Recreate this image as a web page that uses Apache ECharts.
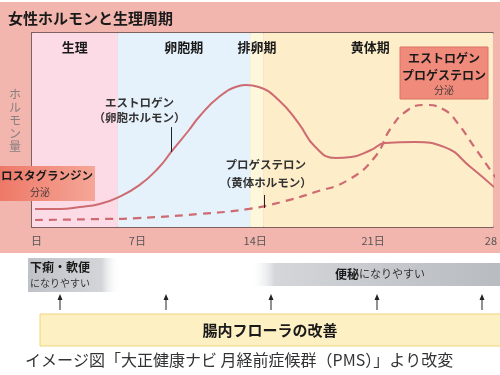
<!DOCTYPE html>
<html><head><meta charset="utf-8">
<script src="https://cdn.jsdelivr.net/npm/echarts@6/dist/echarts.min.js"></script>
<style>html,body{margin:0;padding:0;background:#fff}#c{width:500px;height:375px}</style>
</head><body><div id="c"></div>
<script>
const tickDays = [1, 7, 14, 21, 28];
const tickLabels = ['日', '7日', '14日', '21日', '28'];
const phaseNames = ['生理', '卵胞期', '排卵期', '黄体期'];
const phaseStart = [0.74, 5.82, 13.7, 14.5];
const phaseEnd = [5.82, 13.7, 14.5, 28.12];
const estrogenDays = [0.92, 2.39, 3.58, 4.76, 5.76, 7.12, 8.30, 9.01, 10.07, 10.66, 11.84, 13.03, 13.44, 14.21, 15.39, 16.57, 17.57, 18.76, 19.70, 20.88, 21.71, 23.48, 25.25, 26.79, 28.38];
const estrogenValues = [9.3, 9.3, 10.3, 11.9, 14.9, 21.6, 30.9, 38.7, 50.0, 56.7, 67.0, 72.7, 73.2, 72.2, 65.5, 53.6, 41.2, 35.6, 36.1, 39.7, 43.3, 43.8, 41.2, 30.9, 19.1];
const progDays = [0.92, 4.76, 7.0, 10.66, 13.62, 15.57, 17.57, 19.52, 21.11, 22.06, 23.07, 24.07, 25.25, 26.02, 27.02, 27.97, 28.38];
const progValues = [3.6, 4.1, 4.6, 6.7, 9.3, 12.9, 18.0, 24.2, 36.1, 51.0, 60.3, 62.9, 60.3, 53.6, 41.2, 29.4, 24.2];
const arrowXs = [60, 166, 271, 377, 482];

const FONT = '"Noto Sans CJK JP", "Noto Sans", sans-serif';
const phaseColors = ['#fcdbe6', '#e6f2fb', '#fdf8dc', '#fdedc9'];
const lineColor = '#cd6b70';

const chart = echarts.init(document.getElementById('c'), null, {renderer: 'canvas'});

const estData = estrogenDays.map((d, i) => [d, estrogenValues[i]]);
const progData = progDays.map((d, i) => [d, progValues[i]]);

const phaseAreas = phaseNames.map((n, i) => [
  {name: n, xAxis: phaseStart[i], itemStyle: {color: phaseColors[i]}, label: i === 3 ? {offset: [-8, 0]} : {}},
  {xAxis: phaseEnd[i]}
]);

const graphics = [
  {type: 'rect', z: -10, shape: {x: 0, y: 2, width: 500, height: 251}, style: {fill: '#f3b6ae'}},
  {type: 'text', z: 10, x: 8, y: 18, style: {text: '女性ホルモンと生理周期', font: 'bold 15px ' + FONT, fill: '#1a1a1a', verticalAlign: 'middle'}},
  {type: 'text', z: 10, x: 15, y: 88, style: {text: 'ホ\nル\nモ\nン\n量', font: '12px ' + FONT, fill: '#8a7f80', align: 'center', lineHeight: 13}},
  // estrogen/progesterone box
  {type: 'rect', z: 10, shape: {x: 400, y: 47, width: 88, height: 52}, style: {fill: '#f08b7b', stroke: '#d87362', lineWidth: 1}},
  {type: 'text', z: 11, x: 444, y: 58, style: {text: 'エストロゲン', font: 'bold 12px ' + FONT, fill: '#1a1a1a', align: 'center', verticalAlign: 'middle'}},
  {type: 'text', z: 11, x: 444, y: 75, style: {text: 'プロゲステロン', font: 'bold 12px ' + FONT, fill: '#1a1a1a', align: 'center', verticalAlign: 'middle'}},
  {type: 'text', z: 11, x: 444, y: 90, style: {text: '分泌', font: '10px ' + FONT, fill: '#4a3a3a', align: 'center', verticalAlign: 'middle'}},
  // prostaglandin box
  {type: 'rect', z: 10, shape: {x: 0, y: 166, width: 95, height: 35}, style: {fill: new echarts.graphic.LinearGradient(0, 0, 1, 0, [{offset: 0, color: '#ee7868'}, {offset: 1, color: '#f5a797'}])}},
  {type: 'text', z: 11, x: 1, y: 176, style: {text: 'ロスタグランジン', font: 'bold 11.5px ' + FONT, fill: '#1a1a1a', align: 'left', verticalAlign: 'middle'}},
  {type: 'text', z: 11, x: 40, y: 192, style: {text: '分泌', font: '10px ' + FONT, fill: '#4a3a3a', align: 'center', verticalAlign: 'middle'}},
  // grey boxes
  {type: 'rect', z: 10, shape: {x: 28, y: 258, width: 92, height: 34}, style: {fill: new echarts.graphic.LinearGradient(0, 0, 1, 0, [{offset: 0, color: '#bfc2c7'}, {offset: 0.8, color: '#d3d5d9'}, {offset: 1, color: 'rgba(255,255,255,0)'}])}},
  {type: 'text', z: 11, x: 30, y: 267, style: {text: '下痢・軟便', font: 'bold 12px ' + FONT, fill: '#1a1a1a', verticalAlign: 'middle'}},
  {type: 'text', z: 11, x: 30, y: 283, style: {text: 'になりやすい', font: '10px ' + FONT, fill: '#333', verticalAlign: 'middle'}},
  {type: 'rect', z: 10, shape: {x: 250, y: 263, width: 250, height: 23}, style: {fill: new echarts.graphic.LinearGradient(0, 0, 1, 0, [{offset: 0, color: 'rgba(255,255,255,0)'}, {offset: 0.1, color: '#d4d6da'}, {offset: 0.5, color: '#c6c9cd'}, {offset: 1, color: '#b8bcc1'}])}},
  {type: 'text', z: 11, x: 380, y: 274, style: {text: '{a|便秘}{b|になりやすい}', rich: {a: {font: 'bold 12px ' + FONT, fill: '#1a1a1a'}, b: {font: '11px ' + FONT, fill: '#333'}}, align: 'center', verticalAlign: 'middle'}},
  // yellow box
  {type: 'rect', z: 10, shape: {x: 40, y: 314, width: 470, height: 32}, style: {fill: '#fdf0c3', stroke: '#f1d57a', lineWidth: 1}},
  {type: 'text', z: 11, x: 270, y: 330, style: {text: '腸内フローラの改善', font: 'bold 15px ' + FONT, fill: '#1a1a1a', align: 'center', verticalAlign: 'middle'}},
  {type: 'text', z: 11, x: 25, y: 360, style: {text: 'イメージ図「大正健康ナビ 月経前症候群（PMS）」より改変', font: '16px ' + FONT, fill: '#333', verticalAlign: 'middle'}}
];
arrowXs.forEach(x => {
  graphics.push({type: 'line', z: 10, shape: {x1: x, y1: 298, x2: x, y2: 310}, style: {stroke: '#222', lineWidth: 1}});
  graphics.push({type: 'polygon', z: 10, shape: {points: [[x, 294], [x - 2.5, 300], [x + 2.5, 300]]}, style: {fill: '#222'}});
});

chart.setOption({
  animation: false,
  textStyle: {fontFamily: FONT},
  grid: {left: 32, right: 3, top: 33, bottom: 148},
  xAxis: [{
    type: 'value', min: 0.74, max: 28.12,
    axisLine: {show: true, lineStyle: {color: '#5a4646', width: 1.5}},
    axisTick: {show: false},
    splitLine: {show: false},
    axisLabel: {
      customValues: tickDays,
      formatter: v => tickLabels[tickDays.indexOf(v)] || '',
      color: '#555', fontSize: 11, margin: 8, fontFamily: FONT
    }
  }, {
    type: 'value', min: 0.74, max: 28.12, position: 'top',
    axisLine: {show: true, lineStyle: {color: '#5a4646', width: 1.5}},
    axisTick: {show: false}, axisLabel: {show: false}, splitLine: {show: false}
  }],
  yAxis: {
    type: 'value', min: 0, max: 100,
    axisLine: {show: true, lineStyle: {color: '#5a4646', width: 1.5}},
    axisTick: {show: false}, axisLabel: {show: false}, splitLine: {show: false}
  },
  graphic: graphics,
  series: [{
    name: 'エストロゲン', type: 'line', data: estData, smooth: 0.5, symbol: 'none',
    lineStyle: {color: lineColor, width: 2},
    markArea: {
      silent: true,
      label: {show: true, position: 'insideTop', distance: 8, color: '#1a1a1a', fontWeight: 'bold', fontSize: 13, fontFamily: FONT},
      data: phaseAreas
    },
    markLine: {
      silent: true, symbol: 'none', label: {show: false},
      lineStyle: {color: '#222', width: 1, type: 'solid'},
      data: [
        [{coord: [9.01, 51.5]}, {coord: [9.01, 38.7]}],
        [{coord: [14.56, 16.5]}, {coord: [14.56, 9.8]}]
      ]
    },
    markPoint: {
      silent: true, symbol: 'circle', symbolSize: 1, itemStyle: {color: 'rgba(0,0,0,0)'},
      data: [
        {coord: [7.12, 60.1], label: {show: true, position: 'inside', formatter: 'エストロゲン\n（卵胞ホルモン）', fontSize: 11.5, fontWeight: 'bold', color: '#333', lineHeight: 15, align: 'center', fontFamily: FONT}},
        {coord: [14.62, 27.3], label: {show: true, position: 'inside', formatter: 'プロゲステロン\n（黄体ホルモン）', fontSize: 11.5, fontWeight: 'bold', color: '#333', lineHeight: 18, align: 'center', fontFamily: FONT}}
      ]
    }
  }, {
    name: 'プロゲステロン', type: 'line', data: progData, smooth: 0.5, symbol: 'none',
    lineStyle: {color: lineColor, width: 2.2, type: [8, 6]}
  }]
});
</script>
</body></html>
